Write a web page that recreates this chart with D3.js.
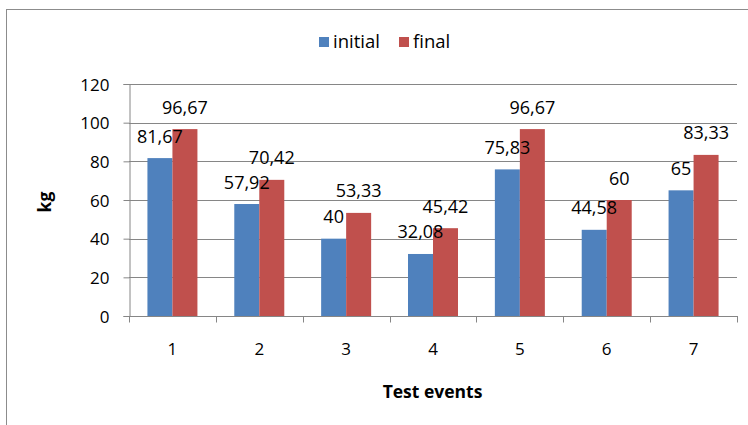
<!DOCTYPE html>
<html>
<head>
<meta charset="utf-8">
<script src="https://cdn.jsdelivr.net/npm/d3@7"></script>
<style>
  html, body { margin: 0; padding: 0; background: #fff; }
  svg { display: block; }
  text { font-family: "Open Sans", "Liberation Sans", sans-serif; fill: #000; }
</style>
</head>
<body>
<svg id="chart" width="748" height="425"></svg>
<script>
const categories = ["1", "2", "3", "4", "5", "6", "7"];
const seriesNames = ["initial", "final"];
const initialValues = [81.67, 57.92, 40, 32.08, 75.83, 44.58, 65];
const finalValues = [96.67, 70.42, 53.33, 45.42, 96.67, 60, 83.33];
const yTicks = [0, 20, 40, 60, 80, 100, 120];
const colors = ["#4F81BD", "#C0504D"];
const xTitle = "Test events";
const yTitle = "kg";

const svg = d3.select("#chart");
const plot = { left: 129, right: 737, top: 84, bottom: 316 };

// outer frame
svg.append("rect")
  .attr("x", 6.5).attr("y", 9.5).attr("width", 800).attr("height", 500)
  .attr("fill", "none").attr("stroke", "#8c8c8c").attr("stroke-width", 1);

const x0 = d3.scaleBand().domain(categories).range([plot.left, plot.right]).padding(0);
const barW = 25;
const po = (x0.bandwidth() / barW - seriesNames.length) / 2;
const x1 = d3.scaleBand().domain(seriesNames).range([0, x0.bandwidth()]).paddingInner(0).paddingOuter(po);
const y = d3.scaleLinear().domain([0, 120]).range([plot.bottom, plot.top]);

const fmt = v => String(v).replace(".", ",");

// gridlines
svg.append("g").selectAll("line").data(yTicks.filter(t => t > 0)).join("line")
  .attr("x1", plot.left).attr("x2", plot.right)
  .attr("y1", d => Math.round(y(d)) + 0.5).attr("y2", d => Math.round(y(d)) + 0.5)
  .attr("stroke", "#868686").attr("stroke-width", 1);

// y axis
const yAxis = svg.append("g").attr("transform", `translate(${plot.left + 0.5},0)`)
  .call(d3.axisLeft(y).tickValues(yTicks).tickSize(6).tickPadding(14).tickFormat(d => d));
yAxis.select(".domain").attr("stroke", "#868686");
yAxis.selectAll(".tick line").attr("stroke", "#868686");
yAxis.selectAll(".tick text").attr("font-size", 17).attr("font-family", "Open Sans").attr("dy", "0.36em");

// bars
const data = categories.map((c, i) => ({ cat: c, vals: [initialValues[i], finalValues[i]] }));
const groups = svg.append("g").selectAll("g").data(data).join("g")
  .attr("transform", d => `translate(${x0(d.cat)},0)`);
groups.selectAll("rect").data(d => d.vals.map((v, j) => ({ s: seriesNames[j], v, j }))).join("rect")
  .attr("x", d => x1(d.s)).attr("width", x1.bandwidth())
  .attr("y", d => y(d.v)).attr("height", d => y(0) - y(d.v))
  .attr("fill", d => colors[d.j]);

// x axis
const xAxisG = svg.append("g").attr("transform", `translate(0,${Math.round(plot.bottom) + 0.5})`);
xAxisG.append("line").attr("x1", plot.left).attr("x2", plot.right + 1)
  .attr("stroke", "#868686");
const bounds = categories.map(c => x0(c)).concat([plot.right]);
xAxisG.selectAll(".tk").data(bounds).join("line").attr("class", "tk")
  .attr("x1", d => Math.round(d) + 0.5).attr("x2", d => Math.round(d) + 0.5)
  .attr("y1", 0).attr("y2", 6).attr("stroke", "#868686");
const xAxis = svg.append("g").attr("transform", `translate(0,${plot.bottom})`)
  .call(d3.axisBottom(x0).tickSize(0).tickPadding(27));
xAxis.select(".domain").remove();
xAxis.selectAll(".tick text").attr("font-size", 17).attr("font-family", "Open Sans");

// data labels
groups.selectAll("text.lbl").data(d => d.vals.map((v, j) => ({ s: seriesNames[j], v, j }))).join("text")
  .attr("class", "lbl")
  .attr("x", d => x1(d.s) + x1.bandwidth() / 2)
  .attr("y", d => y(d.v) - 15.5)
  .attr("text-anchor", "middle").attr("font-size", 18)
  .text(d => fmt(d.v));

// legend
const legend = svg.append("g");
const legX = [319, 399];
seriesNames.forEach((s, i) => {
  legend.append("rect").attr("x", legX[i]).attr("y", 37).attr("width", 10).attr("height", 10).attr("fill", colors[i]);
  legend.append("text").attr("x", legX[i] + 14).attr("y", 48).attr("font-size", 18.5).text(s);
});

// axis titles
svg.append("text").attr("x", (plot.left + plot.right) / 2 - 0.5).attr("y", 398)
  .attr("text-anchor", "middle").attr("font-weight", "bold").attr("font-size", 17.5).text(xTitle);
svg.append("text").attr("transform", "translate(51,202) rotate(-90)")
  .attr("text-anchor", "middle").attr("font-weight", "bold").attr("font-size", 17.5).text(yTitle);
</script>
</body>
</html>
